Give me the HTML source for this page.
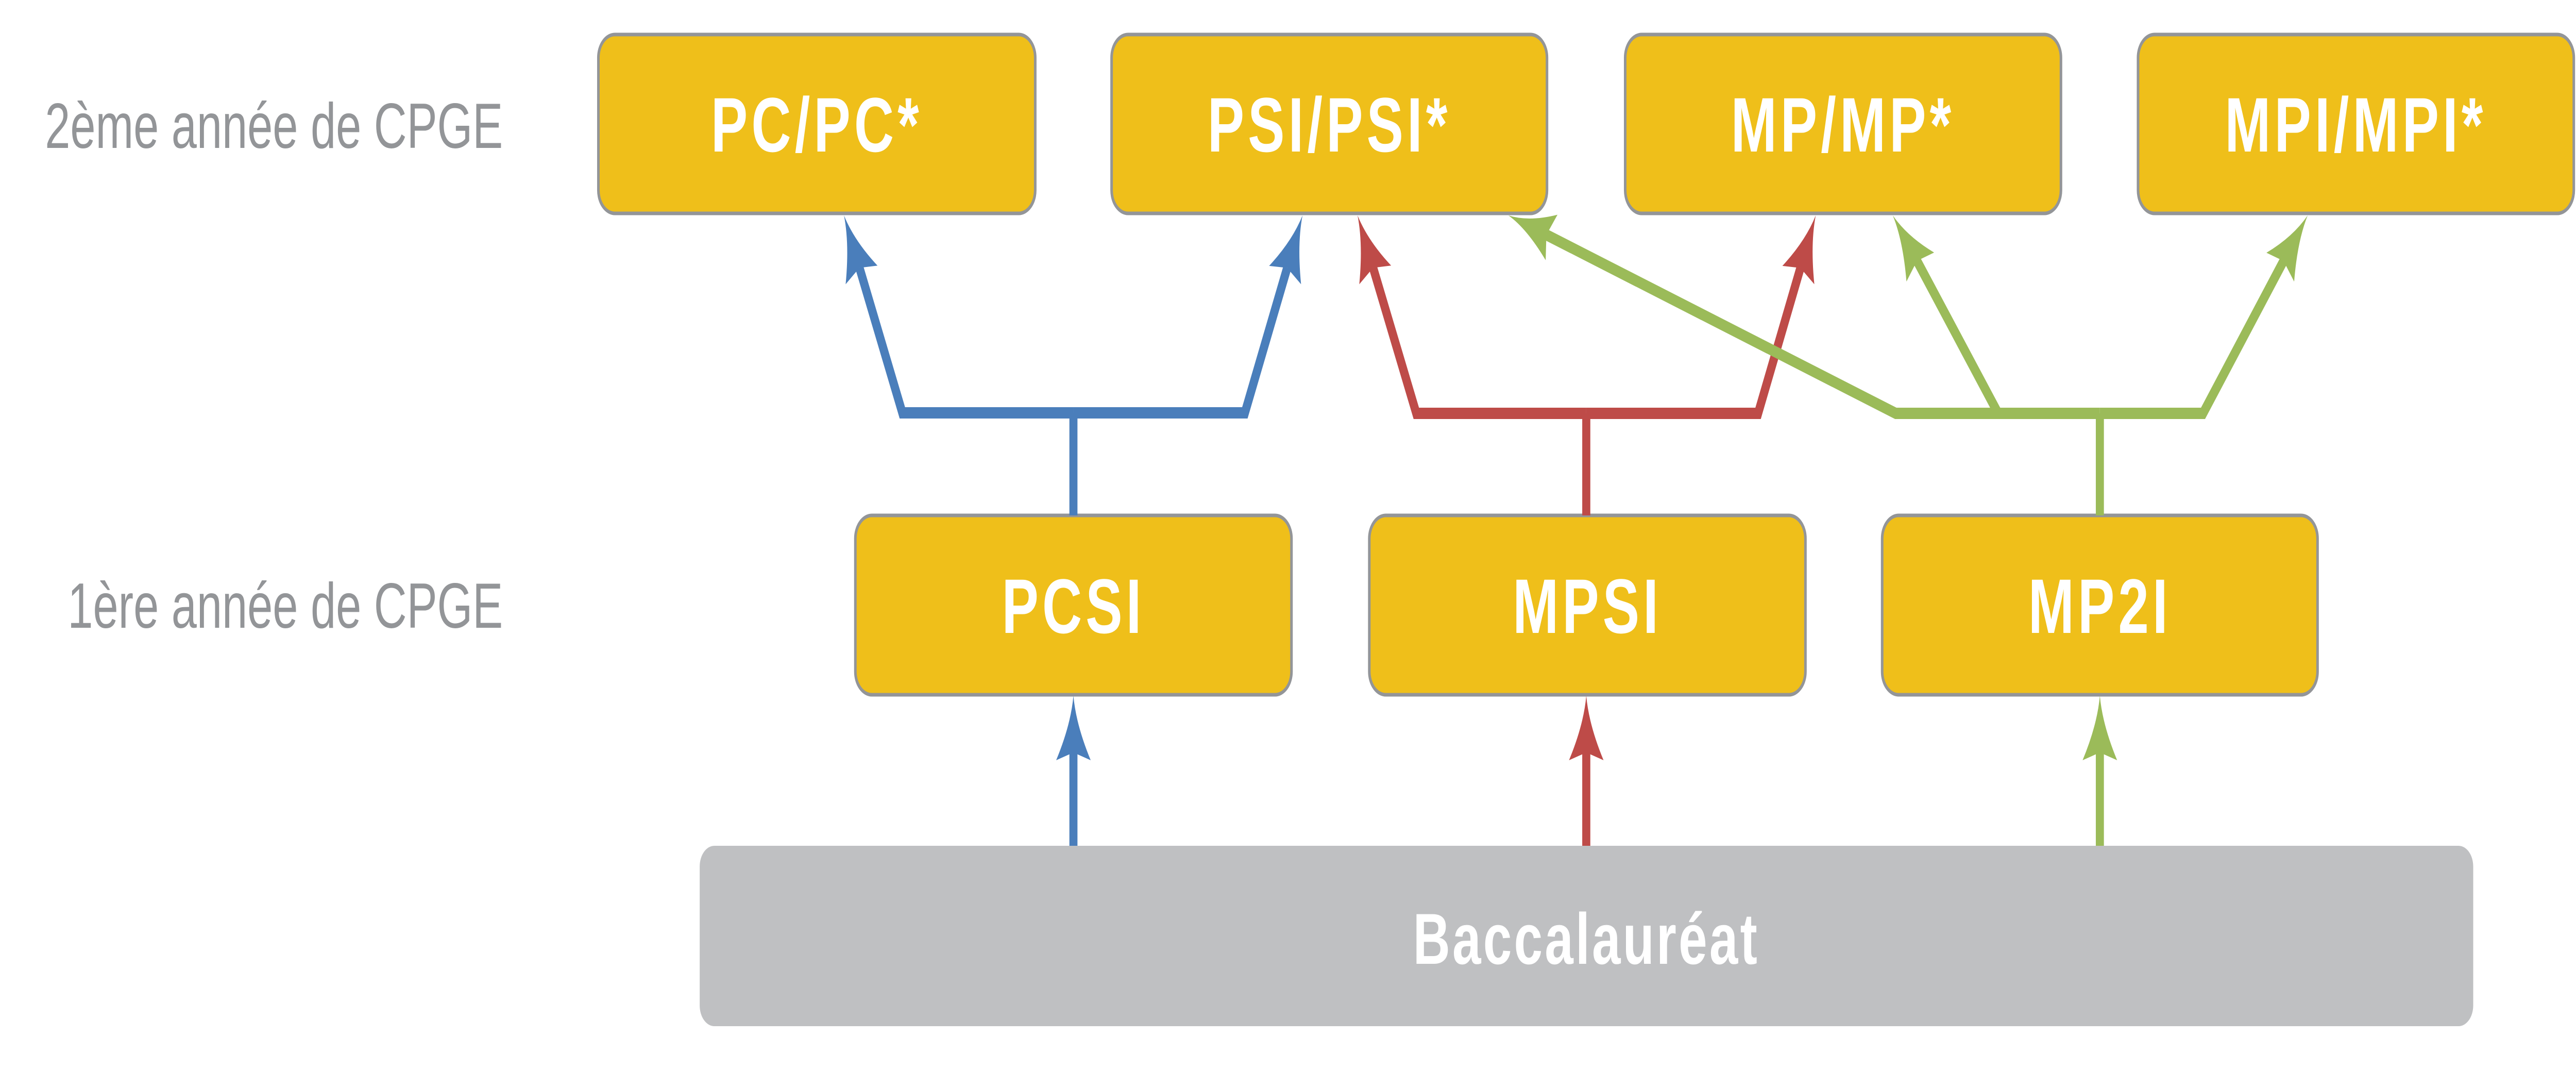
<!DOCTYPE html>
<html><head><meta charset="utf-8"><style>
html,body{margin:0;padding:0;background:#fff;width:100%;height:100%;overflow:hidden;}
svg{display:block;width:100vw;height:100vh;}
</style></head><body>
<svg id="s" xmlns="http://www.w3.org/2000/svg" viewBox="0 0 7017 2109" preserveAspectRatio="none">
<g font-family="Liberation Sans, sans-serif" font-size="124" fill="#939598" text-anchor="end">
<text x="1370" y="287">2ème année de CPGE</text>
<text x="1370" y="1218">1ère année de CPGE</text>
</g>
<g fill="#EFBF1A" stroke="#939598" stroke-width="7">
<rect x="1630" y="67" width="1190" height="347" rx="45"/>
<rect x="3028" y="67" width="1186" height="347" rx="45"/>
<rect x="4427" y="67" width="1187" height="347" rx="45"/>
<rect x="5824" y="67" width="1187" height="347" rx="45"/>
<rect x="2330" y="1000" width="1188" height="348" rx="45"/>
<rect x="3730" y="1000" width="1188" height="348" rx="45"/>
<rect x="5127" y="1000" width="1186" height="348" rx="45"/>
</g>
<rect x="1906" y="1641" width="4831" height="350" rx="40" fill="#BFC0C2"/>
<g id="conn" fill="none" stroke-width="22" stroke-linejoin="miter"></g>
<g id="heads"></g>
<g font-family="Liberation Sans, sans-serif" font-weight="bold" font-size="150" fill="#fff" text-anchor="middle" letter-spacing="10">
<text x="2225" y="294">PC/PC*</text>
<text x="3621" y="294">PSI/PSI*</text>
<text x="5020" y="294">MP/MP*</text>
<text x="6417" y="294">MPI/MPI*</text>
<text x="2924" y="1228">PCSI</text>
<text x="4324" y="1228">MPSI</text>
<text x="5720" y="1228">MP2I</text>
<text x="4321" y="1870" font-size="140" letter-spacing="6">Baccalauréat</text>
</g>
<script>
var NS="http://www.w3.org/2000/svg";
var conn=document.getElementById('conn'),heads=document.getElementById('heads');
var B="#4A7EBB",R="#BE4B48",G="#9BBB59";
var L=125,W=47;
function arrow(col,pts){
  var n=pts.length,t=pts[n-1],f=pts[n-2];
  var dx=t[0]-f[0],dy=t[1]-f[1],len=Math.hypot(dx,dy);dx/=len;dy/=len;
  var nx=-dy,ny=dx;
  var bx=t[0]-dx*L,by=t[1]-dy*L;
  var bc=[t[0]-dx*L*0.88,t[1]-dy*L*0.88];
  var p=pts.slice(0,n-1).concat([bc]);
  var pl=document.createElementNS(NS,'polyline');
  pl.setAttribute('points',p.map(function(a){return a.join(',')}).join(' '));
  pl.setAttribute('stroke',col);conn.appendChild(pl);
  var lx=bx+nx*W,ly=by+ny*W,rx=bx-nx*W,ry=by-ny*W;
  var c1=[t[0]-dx*L*0.45+nx*W*0.15,t[1]-dy*L*0.45+ny*W*0.15];
  var c2=[t[0]-dx*L*0.45-nx*W*0.15,t[1]-dy*L*0.45-ny*W*0.15];
  var d="M"+t[0]+","+t[1]+" Q"+c1[0]+","+c1[1]+" "+lx+","+ly+" L"+bc[0]+","+bc[1]+" L"+rx+","+ry+" Q"+c2[0]+","+c2[1]+" "+t[0]+","+t[1]+"Z";
  var pa=document.createElementNS(NS,'path');pa.setAttribute('d',d);pa.setAttribute('fill',col);heads.appendChild(pa);
}
function line(col,pts){var pl=document.createElementNS(NS,'polyline');
  pl.setAttribute('points',pts.map(function(a){return a.join(',')}).join(' '));pl.setAttribute('stroke',col);conn.appendChild(pl);}
line(B,[[2924,1000],[2924,801]]);
arrow(B,[[2924,801],[2458,801],[2299,418]]);
arrow(B,[[2924,801],[3391,801],[3548,418]]);
arrow(B,[[2924,1641],[2924,1350]]);
line(R,[[4321,1000],[4321,802]]);
arrow(R,[[4321,802],[3858,802],[3698,418]]);
arrow(R,[[4321,802],[4789,802],[4946,418]]);
arrow(R,[[4321,1641],[4321,1350]]);
line(G,[[5720,1000],[5720,802]]);
arrow(G,[[5720,802],[5164,802],[4109,418]]);
arrow(G,[[5443,802],[5156,418]]);
arrow(G,[[5720,802],[6001,802],[6286,418]]);
arrow(G,[[5720,1641],[5720,1350]]);
</script>
</svg>
</body></html>
